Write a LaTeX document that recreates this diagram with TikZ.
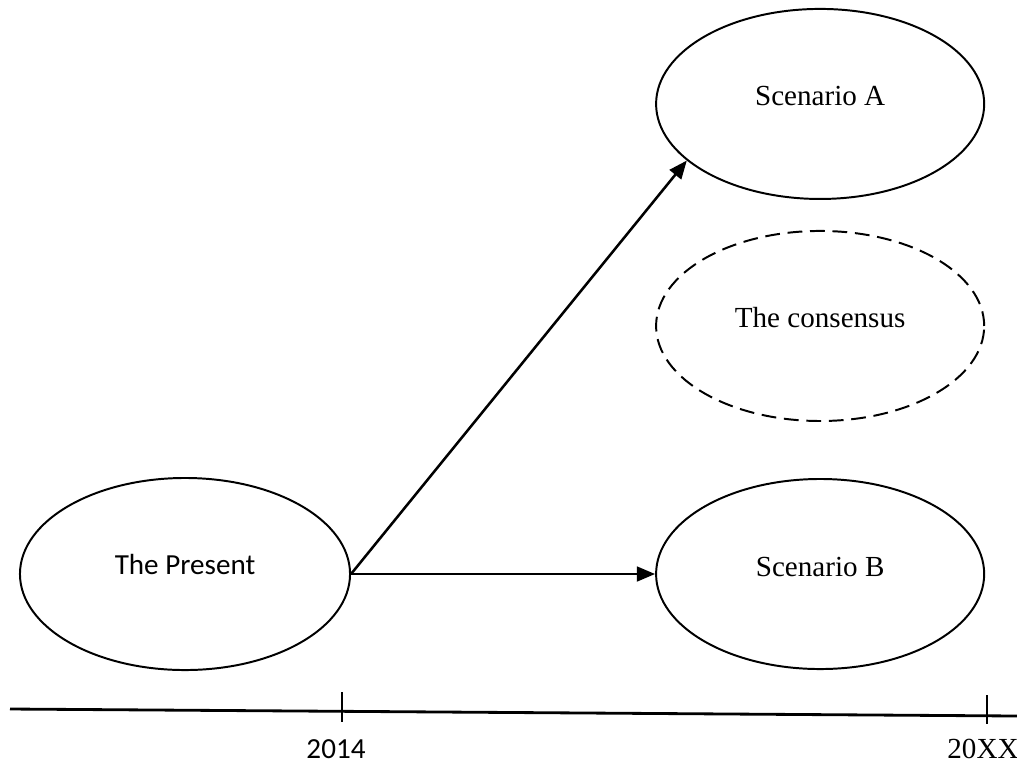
\documentclass[tikz,border=0pt]{standalone}
\usepackage{fontspec}
\setmainfont{Liberation Serif}
\newfontfamily\calibri{Carlito}
\usetikzlibrary{shapes.geometric,positioning,arrows.meta}

\begin{document}
\begin{tikzpicture}[x=0.025cm, y=-0.025cm, font=\fontsize{20.7}{25}\selectfont,
    scen/.style={draw, ellipse, line width=1.4pt, minimum width=8.2cm, minimum height=4.75cm, text height=0.5cm, text depth=0.4cm},
    arr/.style={-{Triangle[length=13pt,width=10.5pt]}, line width=1.8pt}]
    \useasboundingbox (0,0) rectangle (1017,765);
    \node (present) [scen, minimum width=8.25cm, minimum height=4.8cm, text depth=0.5cm] at (185,574) {\calibri The Present};
    \node (scenB) [scen, right=7.6cm of present] {Scenario B};
    \node (consens) [scen, dashed, dash pattern=on 10.5pt off 5.5pt, above=1.4cm of scenB] {The consensus};
    \node (scenA) [scen, above=0.75cm of consens] {Scenario A};

    \draw[arr] (present.east) -- (scenA.203);
    \draw[arr] (present.east) -- (scenB.west);

    % time line
    \draw[line width=2pt] (10,709) -- (1017,716);
    \draw[line width=1pt] (342,692) -- (342,722);
    \draw[line width=1pt] (987,695) -- (987,724);
    \node (now) at (336,749) {\calibri 2014};
    \node (later) at (983,749) {20XX};
\end{tikzpicture}
\end{document}
